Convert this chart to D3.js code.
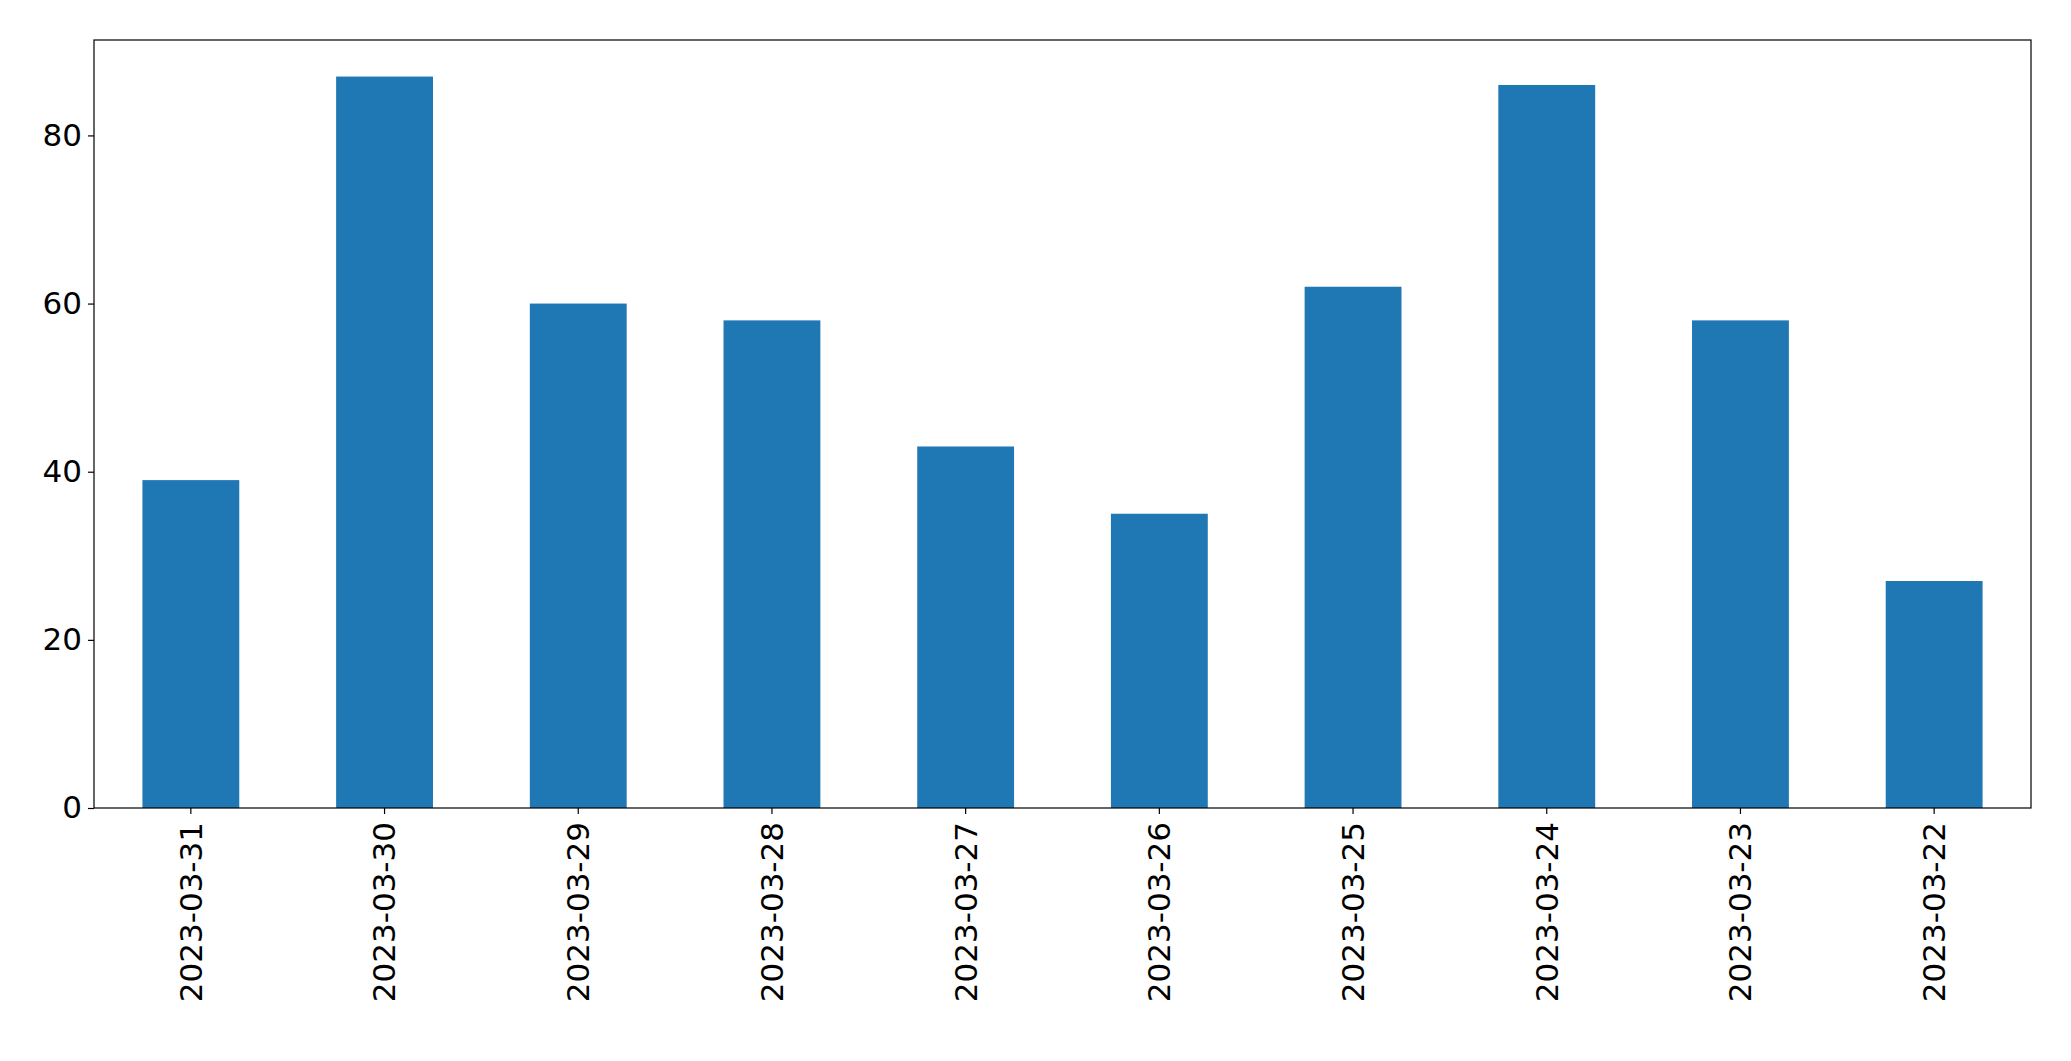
<!DOCTYPE html>
<html><head><meta charset="utf-8">
<script src="https://cdn.jsdelivr.net/npm/d3@7"></script>
<style>body{margin:0;background:#fff}</style></head>
<body><svg id="c" width="2071" height="1061"></svg>
<script>
const categories=["2023-03-31","2023-03-30","2023-03-29","2023-03-28","2023-03-27","2023-03-26","2023-03-25","2023-03-24","2023-03-23","2023-03-22"];
const values=[39,87,60,58,43,35,62,86,58,27];
const yTicks=[0,20,40,60,80];
const svg=d3.select("#c");
const L=94,R=2031,T=40,B=808;
const x=d3.scaleBand().domain(categories).range([L,R]).padding(0.5).paddingOuter(0.25);
const y=d3.scaleLinear().domain([0,d3.max(values)*1.05]).range([B,T]);
svg.selectAll("rect.bar").data(values).join("rect").attr("class","bar")
 .attr("x",(d,i)=>x(categories[i])).attr("width",x.bandwidth())
 .attr("y",d=>y(d)).attr("height",d=>B-y(d)).attr("fill","#1f77b4");
const ya=svg.append("g").attr("transform",`translate(${L},0)`).call(d3.axisLeft(y).tickValues(yTicks).tickSize(6).tickPadding(6));
const xa=svg.append("g").attr("transform",`translate(0,${B})`).call(d3.axisBottom(x).tickSize(6).tickPadding(8));
xa.selectAll("text").attr("transform","rotate(-90)").attr("text-anchor","end").attr("x",-14).attr("y",0).attr("dy","0.35em");
svg.selectAll(".tick text").style("font-family","DejaVu Sans").style("font-size","31px").attr("fill","#000");
svg.selectAll(".domain").remove();
svg.selectAll(".tick line").attr("stroke","#000").attr("stroke-width",1.2);
svg.append("rect").attr("x",L).attr("y",T).attr("width",R-L).attr("height",B-T).attr("fill","none").attr("stroke","#000").attr("stroke-width",1.2);
</script></body></html>
